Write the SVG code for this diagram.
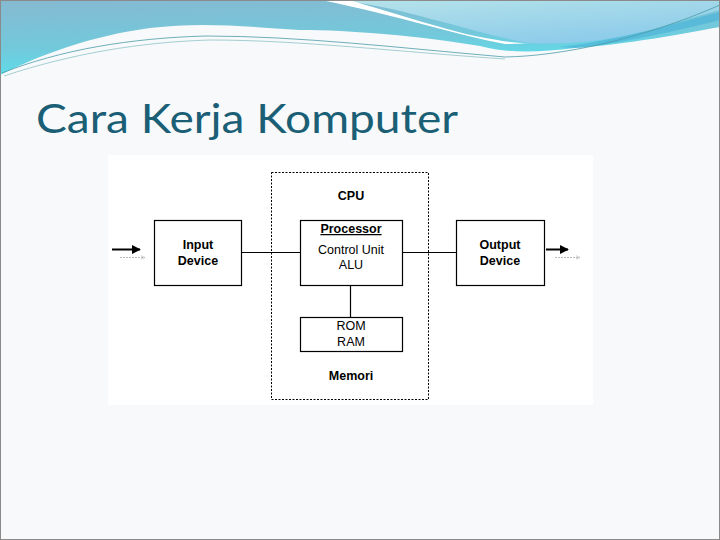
<svg xmlns="http://www.w3.org/2000/svg" width="720" height="540" viewBox="0 0 720 540">
<defs>
<linearGradient id="gL" x1="0" y1="0" x2="0.3" y2="1">
<stop offset="0" stop-color="#86b9d1"/>
<stop offset="0.6" stop-color="#72c9db"/>
<stop offset="1" stop-color="#5ae0ec"/>
</linearGradient>
<linearGradient id="gR" x1="0" y1="0" x2="0.6" y2="1">
<stop offset="0" stop-color="#b6e3ea"/>
<stop offset="1" stop-color="#8ccbea"/>
</linearGradient>
<marker id="ah" viewBox="0 0 10 10" refX="9" refY="5" markerWidth="4.5" markerHeight="4.5" orient="auto"><path d="M0,0 L10,5 L0,10 z" fill="#000"/></marker>
<marker id="ahg" viewBox="0 0 10 10" refX="9" refY="5" markerWidth="5" markerHeight="5" orient="auto"><path d="M0,1 L9,5 L0,9" fill="none" stroke="#bbb" stroke-width="1.5"/></marker>
<style>
.box{fill:#fff;stroke:#000;stroke-width:1.2}
.t{font-family:"Liberation Sans",Arial,sans-serif;font-size:12.5px;fill:#000;text-anchor:middle}
.b{font-weight:bold}
.ln{stroke:#000;stroke-width:1.2;fill:none}
</style>
</defs>
<rect x="0" y="0" width="720" height="540" fill="#f8f9fa"/>
<g id="header">
<path d="M0,0 L720,0 L720,27 C680,34 630,44 575,48 C540,52 510,54 480,46 C420,36 350,30 300,30 C240,26 200,22 150,28 C90,36 40,55 0,75 Z" fill="url(#gL)"/>
<path d="M335,0 L720,0 L720,10 C680,20 640,36 600,40 C570,44 545,44 528,43 C490,36 460,26 420,16 C390,8 365,3 335,0 Z" fill="url(#gR)"/>
<path d="M321,0 L349,0 C390,12 440,28 475,36 C500,41 515,43 528,43 C515,44 508,44 505,44 C460,36 400,16 321,0 Z" fill="#ffffff"/>
<path d="M560,47 C620,40 680,22 720,12 L720,20 C680,30 620,44 575,48 Z" fill="#4fb4d8" opacity="0.7"/>
<path d="M2,73 C60,50 130,38 206,36 C300,36 400,48 505,57 C560,56 640,40 720,5" fill="none" stroke="#4a9ca8" stroke-width="0.8"/>
<path d="M4,76 C70,54 140,42 210,40 C300,40 400,52 505,59" fill="none" stroke="#8fc3c8" stroke-width="0.8"/>
<rect x="0.5" y="0.5" width="719" height="539" fill="none" stroke="#8a8a8a" stroke-width="1"/>
</g>
<text x="36" y="133" font-family="Lato,'Open Sans',sans-serif" font-size="40" fill="#1a5f75" textLength="422" lengthAdjust="spacingAndGlyphs">Cara Kerja Komputer</text>
<rect x="108" y="155" width="485" height="250" fill="#ffffff"/>
<g id="cpu">
<rect x="271.5" y="172.5" width="157" height="227" fill="none" stroke="#000" stroke-width="1" stroke-dasharray="2,1.5"/>
<text class="t b" x="351" y="200">CPU</text>
</g>
<g id="connectors">
<line class="ln" x1="241" y1="252.5" x2="300" y2="252.5"/>
<line class="ln" x1="402" y1="252.5" x2="456" y2="252.5"/>
<line class="ln" x1="350.5" y1="285" x2="350.5" y2="317"/>
<line x1="112" y1="249.5" x2="140" y2="249.5" stroke="#000" stroke-width="2" marker-end="url(#ah)"/>
<line x1="120" y1="257.5" x2="145" y2="257.5" stroke="#bbb" stroke-width="1" stroke-dasharray="2,1" marker-end="url(#ahg)"/>
<line x1="546" y1="249.5" x2="568" y2="249.5" stroke="#000" stroke-width="2" marker-end="url(#ah)"/>
<line x1="555" y1="257.5" x2="580" y2="257.5" stroke="#bbb" stroke-width="1" stroke-dasharray="2,1" marker-end="url(#ahg)"/>
</g>
<g id="input">
<rect class="box" x="154.5" y="220.5" width="87" height="65"/>
<text class="t b" x="198" y="249">Input</text>
<text class="t b" x="198" y="265">Device</text>
</g>
<g id="processor">
<rect class="box" x="300.5" y="220.5" width="102" height="65" stroke-width="1.5"/>
<text class="t b" x="351" y="233" text-decoration="underline">Processor</text>
<text class="t" x="351" y="254">Control Unit</text>
<text class="t" x="351" y="269">ALU</text>
</g>
<g id="output">
<rect class="box" x="456.5" y="220.5" width="88" height="65"/>
<text class="t b" x="500" y="249">Output</text>
<text class="t b" x="500" y="265">Device</text>
</g>
<g id="memory">
<rect class="box" x="300.5" y="317.5" width="102" height="34" stroke-width="2"/>
<text class="t" x="351" y="330">ROM</text>
<text class="t" x="351" y="346">RAM</text>
<text class="t b" x="351" y="380">Memori</text>
</g>
</svg>
